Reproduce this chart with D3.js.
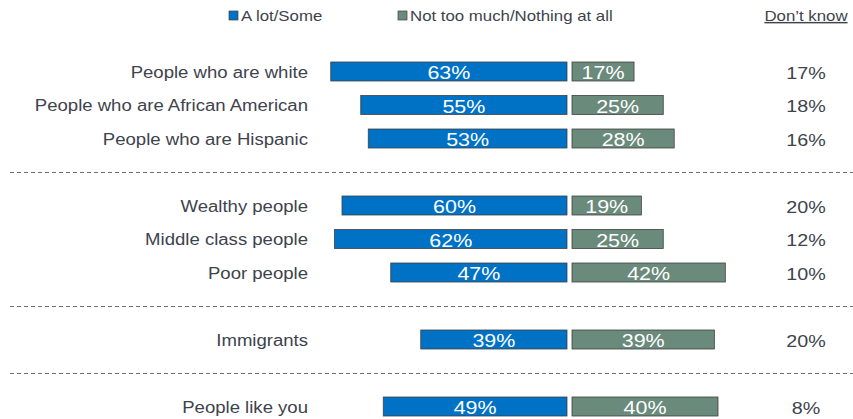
<!DOCTYPE html>
<meta charset="utf-8">
<script src="https://d3js.org/d3.v7.min.js"></script>
<style>
	body{ margin:0; background:#fff; }
	text{ font-family:"Liberation Sans", Arial, sans-serif; }
</style>
<div id="chart"></div>
<script>

// rows, top to bottom; slot = vertical position (gaps where the dashed lines go)
var categories = ["People who are white","People who are African American","People who are Hispanic",
	"Wealthy people","Middle class people","Poor people","Immigrants","People like you"]
var slots = [0,1,2,4,5,6,8,10]
var dividerSlots = [3,7,9]
var aLotSome = [63,55,53,60,62,47,39,49]
var notMuch = [17,25,28,19,25,42,39,40]
var dontKnow = [17,18,16,20,12,10,20,8]
var legendNames = ["A lot/Some","Not too much/Nothing at all"]
var colors = ["#0072C6","#6A8A7B"]

const width = 853, height = 419

const svg = d3.select("#chart")
  .append("svg")
    .attr("width", width)
    .attr("height", height)

var yScale = d3.scaleLinear().domain([0,10]).range([71.5,406.5])
var blueScale = d3.scaleLinear().domain([0,100]).range([567,567-375])
var greenScale = d3.scaleLinear().domain([0,100]).range([572,572+365])
var barH = 19
var textCol = "#3e434c"
var stretch = 1.16  // the original type is set wider than Arial

// place a horizontally stretched text at (x,y)
function place(sel, x, y){
	sel.attr("transform", function(d){
		var xx = typeof x === "function" ? x(d) : x
		var yy = typeof y === "function" ? y(d) : y
		return "translate("+xx+","+yy+") scale("+stretch+",1)"
	})
	return sel
}

// dashed dividers
svg.selectAll(".divider").data(dividerSlots).join("line")
	.attr("class","divider")
	.attr("x1",10).attr("x2",853)
	.attr("y1",d => Math.round(yScale(d))+0.5).attr("y2",d => Math.round(yScale(d))+0.5)
	.attr("stroke","#6b6f75").attr("stroke-width",1)
	.attr("stroke-dasharray","4,3")

// legend
var legendX = [229,398]
legendNames.forEach(function(name,i){
	svg.append("rect").attr("x",legendX[i]).attr("y",11).attr("width",9).attr("height",9)
		.attr("fill",colors[i]).attr("stroke","#404040").attr("stroke-width",0.7)
	place(svg.append("text"), legendX[i]+12, 21)
		.attr("font-size",14.5).attr("fill",textCol).text(name)
})
place(svg.append("text"), 806, 21).attr("text-anchor","middle")
	.attr("font-size",14.5).attr("fill",textCol).attr("text-decoration","underline")
	.text("Don\u2019t know")

var rows = categories.map((c,i) => ({name:c, slot:slots[i], a:aLotSome[i], n:notMuch[i], d:dontKnow[i]}))

var g = svg.selectAll(".row").data(rows).join("g").attr("class","row")
	.attr("transform", d => "translate(0,"+yScale(d.slot)+")")

place(g.append("text"), 308, 6).attr("text-anchor","end")
	.attr("font-size",16).attr("fill",textCol).text(d => d.name)

g.append("rect")
	.attr("x",d => blueScale(d.a)).attr("y",-barH/2)
	.attr("width",d => blueScale(0)-blueScale(d.a)).attr("height",barH)
	.attr("fill",colors[0]).attr("stroke","#404040").attr("stroke-width",0.8)

g.append("rect")
	.attr("x",greenScale(0)).attr("y",-barH/2)
	.attr("width",d => greenScale(d.n)-greenScale(0)).attr("height",barH)
	.attr("fill",colors[1]).attr("stroke","#404040").attr("stroke-width",0.8)

place(g.append("text"), d => (blueScale(d.a)+blueScale(0))/2, 7.5)
	.attr("text-anchor","middle").attr("font-size",18.5).attr("fill","#fff")
	.text(d => d.a+"%")

place(g.append("text"), d => (greenScale(d.n)+greenScale(0))/2, 7.5)
	.attr("text-anchor","middle").attr("font-size",18.5).attr("fill","#fff")
	.text(d => d.n+"%")

place(g.append("text"), 806, 7).attr("text-anchor","middle")
	.attr("font-size",17).attr("fill",textCol).text(d => d.d+"%")

</script>
